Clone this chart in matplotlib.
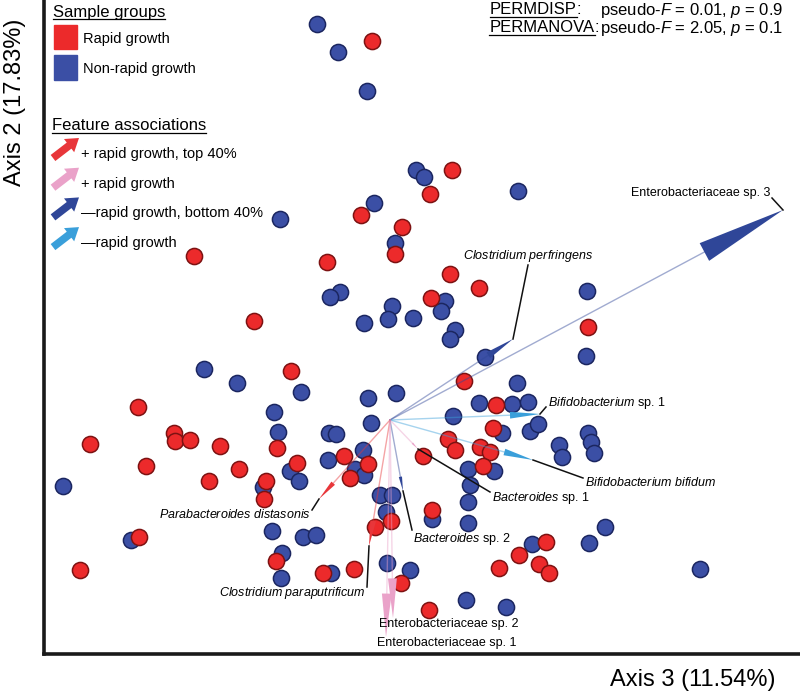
import matplotlib
matplotlib.use('Agg')
import numpy as np
import matplotlib.pyplot as plt
from matplotlib.patches import Rectangle, FancyArrow
from matplotlib.lines import Line2D

plt.rcParams['font.family'] = 'Liberation Sans'
plt.rcParams['mathtext.fontset'] = 'custom'
plt.rcParams['mathtext.rm'] = 'Liberation Sans'
plt.rcParams['mathtext.it'] = 'Liberation Sans:italic'

# ── sample coordinates (Axis 3, Axis 2) ─────────────────────────────────
rapid_x = [-0.018, 0.062, 0.040, -0.029, 0.012, 0.005, -0.196, -0.063, -0.136, 0.060,
           0.089, 0.041, 0.198, -0.099, 0.074, -0.252, 0.106, 0.103, -0.300, -0.216,
           -0.215, -0.200, -0.170, -0.113, -0.244, -0.151, -0.093, -0.181, -0.124, -0.126,
           -0.046, -0.022, -0.040, 0.058, 0.065, 0.090, 0.100, 0.093, 0.033, 0.042,
           0.001, -0.015, -0.251, -0.114, -0.310, -0.067, -0.036, 0.011, 0.156, 0.129,
           0.149, 0.159, 0.109, 0.039]
rapid_y = [0.379, 0.250, 0.226, 0.205, 0.193, 0.166, 0.164, 0.158, 0.099, 0.146,
           0.132, 0.122, 0.093, 0.049, 0.039, 0.013, 0.015, -0.008, -0.024, -0.013,
           -0.021, -0.020, -0.026, -0.028, -0.046, -0.049, -0.043, -0.061, -0.061, -0.079,
           -0.036, -0.044, -0.058, -0.019, -0.030, -0.027, -0.032, -0.046, -0.036, -0.090,
           -0.101, -0.107, -0.117, -0.141, -0.150, -0.153, -0.149, -0.163, -0.122, -0.135,
           -0.144, -0.153, -0.148, -0.190]

nonrapid_x = [-0.073, -0.052, -0.023, 0.026, 0.034, 0.128, -0.110, -0.016, 0.005, -0.050,
              -0.060, 0.002, -0.002, -0.026, 0.055, 0.051, 0.023, 0.065, 0.060, 0.095,
              0.197, 0.196, -0.186, -0.153, -0.089, 0.006, 0.127, -0.022, -0.116, -0.019,
              -0.112, -0.061, -0.054, 0.089, 0.122, 0.138, 0.063, 0.112, 0.140, 0.148,
              0.198, 0.201, 0.204, 0.169, 0.172, -0.100, -0.091, -0.127, -0.062, -0.027,
              -0.035, -0.026, -0.327, -0.010, 0.002, -0.004, 0.078, 0.104, 0.080, 0.078,
              0.078, 0.042, -0.118, -0.087, -0.074, -0.259, -0.108, -0.109, -0.059, -0.003,
              0.020, 0.215, 0.199, 0.142, 0.310, 0.076, 0.116]
nonrapid_y = [0.396, 0.368, 0.329, 0.250, 0.243, 0.229, 0.201, 0.217, 0.177, 0.128,
              0.123, 0.114, 0.101, 0.097, 0.119, 0.109, 0.102, 0.090, 0.081, 0.063,
              0.129, 0.064, 0.051, 0.037, 0.028, 0.027, 0.037, 0.022, 0.008, -0.003,
              -0.012, -0.013, -0.014, 0.017, 0.016, 0.018, 0.004, -0.013, -0.011, -0.004,
              -0.013, -0.022, -0.033, -0.025, -0.037, -0.051, -0.061, -0.067, -0.040, -0.030,
              -0.049, -0.055, -0.066, -0.075, -0.075, -0.092, -0.049, -0.051, -0.065, -0.082,
              -0.103, -0.099, -0.111, -0.117, -0.115, -0.120, -0.133, -0.158, -0.153, -0.143,
              -0.150, -0.107, -0.123, -0.124, -0.149, -0.180, -0.187]

# ── feature loadings (biplot arrows) ────────────────────────────────────
feature_names = [r'Enterobacteriaceae sp. 3',
                 r'$\it{Clostridium}$ $\it{perfringens}$',
                 r'$\it{Bifidobacterium}$ sp. 1',
                 r'$\it{Bifidobacterium}$ $\it{bifidum}$',
                 r'$\it{Bacteroides}$ sp. 1',
                 r'$\it{Bacteroides}$ sp. 2',
                 r'$\it{Parabacteroides}$ $\it{distasonis}$',
                 r'$\it{Clostridium}$ $\it{paraputrificum}$',
                 r'Enterobacteriaceae sp. 2',
                 r'Enterobacteriaceae sp. 1']
feature_x = [0.393, 0.123, 0.150, 0.143, 0.028, 0.013, -0.071, -0.021, 0.003, -0.004]
feature_y = [0.210, 0.081, 0.006, -0.040, -0.029, -0.071, -0.079, -0.126, -0.198, -0.217]
feature_group = ['bottom', 'bottom', 'neg', 'neg', 'pos', 'bottom', 'top', 'top', 'pos', 'pos']

# label placement (x, y, ha) and leader line end points
label_x = [0.380, 0.138, 0.158, 0.195, 0.102, 0.023, -0.079, -0.024, 0.059, 0.057]
label_y = [0.227, 0.164, 0.017, -0.062, -0.078, -0.119, -0.095, -0.173, -0.204, -0.223]
label_ha = ['right', 'center', 'left', 'left', 'left', 'left', 'right', 'right', 'center', 'center']
leader_x = [0.382, 0.138, 0.156, 0.193, 0.100, 0.022, -0.078, -0.023, None, None]
leader_y = [0.222, 0.155, 0.013, -0.058, -0.072, -0.110, -0.090, -0.167, None, None]

group_colors = {'top': '#e8363a', 'pos': '#eaa2c9', 'bottom': '#2f4698', 'neg': '#3a9fda'}
group_labels = ['+ rapid growth, top 40%', '+ rapid growth',
                '\u2014rapid growth, bottom 40%', '\u2014rapid growth']

RED = '#ec2a2b'
BLUE = '#3b4fa5'

W, H = 800, 693
fig = plt.figure(figsize=(W / 100, H / 100), dpi=100)
ax = fig.add_axes([44 / W, 39 / H, 756 / W, 654 / H])
ax.set_xlim(-0.346, 0.410)
ax.set_ylim(-0.234, 0.420)
ax.set_xticks([])
ax.set_yticks([])
for s in ['top', 'right']:
    ax.spines[s].set_visible(False)
for s in ['left', 'bottom']:
    ax.spines[s].set_linewidth(2.6)
    ax.spines[s].set_color('#1a1a1a')


def px(x, y):
    return x / W, 1 - y / H


# samples
ax.scatter(nonrapid_x, nonrapid_y, s=135, c=BLUE, edgecolors='#1b2660', linewidths=1.1, zorder=2)
ax.scatter(rapid_x, rapid_y, s=135, c=RED, edgecolors='#7d1212', linewidths=1.1, zorder=2)

# biplot arrows
for i, name in enumerate(feature_names):
    fx, fy = feature_x[i], feature_y[i]
    col = group_colors[feature_group[i]]
    L = np.hypot(fx, fy)
    hl = 0.2 * L
    hw = 0.045 * L
    bx, by = fx * (1 - hl / L), fy * (1 - hl / L)
    ax.plot([0, bx], [0, by], color=col, alpha=0.45, lw=1.0, zorder=3)
    ax.add_patch(FancyArrow(bx, by, fx - bx, fy - by, width=0, head_width=hw, head_length=hl,
                            length_includes_head=True, color=col, lw=0, zorder=4))
    if leader_x[i] is not None:
        ax.plot([fx, leader_x[i]], [fy, leader_y[i]], color='#111111', lw=1.1, zorder=4)
    ax.text(label_x[i], label_y[i], name, ha=label_ha[i], va='center', fontsize=9, zorder=5)


renderer = fig.canvas.get_renderer()


def underline(t):
    bb = t.get_window_extent(renderer)
    yl = bb.y0 + 0.5
    fig.add_artist(Line2D([bb.x0 / W, bb.x1 / W], [yl / H, yl / H], color='black', lw=0.9))
    return bb


# legend: sample groups
underline(fig.text(*px(53, 12), 'Sample groups', fontsize=12, va='center'))
fig.add_artist(Rectangle(px(54, 49), 23 / W, 24 / H, transform=fig.transFigure, color=RED))
fig.add_artist(Rectangle(px(54, 80), 23 / W, 25 / H, transform=fig.transFigure, color=BLUE))
fig.text(*px(83, 39), 'Rapid growth', fontsize=10.5, va='center')
fig.text(*px(83, 69), 'Non-rapid growth', fontsize=10.5, va='center')

# legend: feature associations
underline(fig.text(*px(52, 126), 'Feature associations', fontsize=12, va='center'))
for k, g in enumerate(['top', 'pos', 'bottom', 'neg']):
    yc = 149 + 29.7 * k
    ax.annotate('', xy=(79, H - (yc - 11)), xytext=(53, H - (yc + 9)), xycoords='figure pixels',
                arrowprops=dict(width=5.5, headwidth=12, headlength=9, shrink=0,
                                facecolor=group_colors[g], edgecolor='none'))
    fig.text(*px(81, yc + 5), group_labels[k], fontsize=10.5, va='center')

# statistics
for name, yy, xend in [('PERMDISP', 10, 581), ('PERMANOVA', 28, 599)]:
    colon = fig.text(*px(xend, yy), ':', fontsize=12, ha='right', va='center')
    cb = colon.get_window_extent(renderer)
    underline(fig.text(cb.x0 / W, 1 - yy / H, name, fontsize=12, ha='right', va='center'))
fig.text(*px(600, 10), r'pseudo-$\it{F}$ = 0.01, $\it{p}$ = 0.9', fontsize=12, va='center')
fig.text(*px(600, 28), r'pseudo-$\it{F}$ = 2.05, $\it{p}$ = 0.1', fontsize=12, va='center')

# axis titles
fig.text(*px(775, 680), 'Axis 3 (11.54%)', fontsize=17, ha='right', va='center')
fig.text(*px(15, 102), 'Axis 2 (17.83%)', fontsize=17, rotation=90, ha='center', va='center')

fig.savefig('out.png', dpi=100)
